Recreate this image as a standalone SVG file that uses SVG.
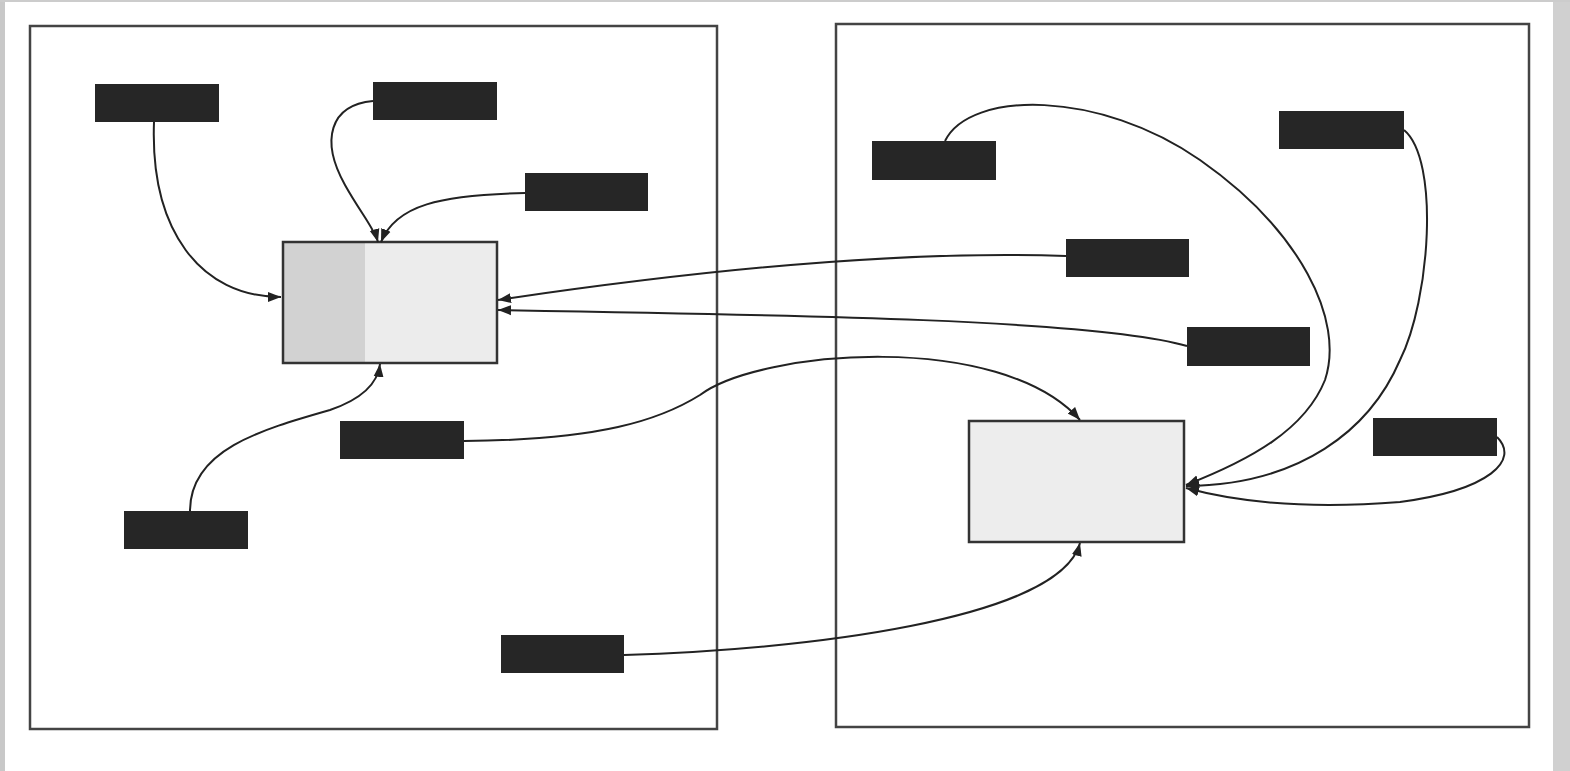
<svg xmlns="http://www.w3.org/2000/svg" width="1570" height="771" viewBox="0 0 1570 771">
<style>
.panel{fill:none;stroke:#444;stroke-width:2.5}
.lbl{fill:#262626}
.edge{fill:none;stroke:#222;stroke-width:2;marker-end:url(#ah)}
.gbox{stroke:#333;stroke-width:2.5}
</style>
<defs>
<marker id="ah" markerWidth="14" markerHeight="12" refX="13" refY="6" orient="auto" markerUnits="userSpaceOnUse">
<path d="M0,1 L13,6 L0,11 Z" fill="#222"/>
</marker>
</defs>
<rect x="0" y="0" width="1570" height="771" fill="#fff"/>
<rect x="0" y="0" width="5" height="771" fill="#c8c8c8"/>
<rect x="1553" y="0" width="17" height="771" fill="#d0d0d0"/>
<rect x="0" y="0" width="1570" height="2" fill="#ccc"/>
<g id="panel-left"><rect class="panel" x="30" y="26" width="687" height="703"/></g>
<g id="panel-right"><rect class="panel" x="836" y="24" width="693" height="703"/></g>
<g id="node-L">
<rect x="283" y="242" width="214" height="121" fill="#ececec"/>
<rect x="283" y="242" width="82" height="121" fill="#d2d2d2"/>
<rect class="gbox" x="283" y="242" width="214" height="121" fill="none"/>
</g>
<g id="node-R"><rect class="gbox" x="969" y="421" width="215" height="121" fill="#ededed"/></g>
<g id="node-A"><rect class="lbl" x="95" y="84" width="124" height="38"/></g>
<g id="node-B"><rect class="lbl" x="373" y="82" width="124" height="38"/></g>
<g id="node-C"><rect class="lbl" x="525" y="173" width="123" height="38"/></g>
<g id="node-D"><rect class="lbl" x="340" y="421" width="124" height="38"/></g>
<g id="node-E"><rect class="lbl" x="124" y="511" width="124" height="38"/></g>
<g id="node-F"><rect class="lbl" x="501" y="635" width="123" height="38"/></g>
<g id="node-G"><rect class="lbl" x="872" y="141" width="124" height="39"/></g>
<g id="node-H"><rect class="lbl" x="1279" y="111" width="125" height="38"/></g>
<g id="node-I"><rect class="lbl" x="1066" y="239" width="123" height="38"/></g>
<g id="node-J"><rect class="lbl" x="1187" y="327" width="123" height="39"/></g>
<g id="node-K"><rect class="lbl" x="1373" y="418" width="124" height="38"/></g>
<g id="connectors">
<path class="edge" d="M154,122 C150,230 200,297 281,297"/>
<path class="edge" d="M373,101 C330,105 320,140 345,185 C360,212 374,228 378,242"/>
<path class="edge" d="M525,193 C440,195 396,205 381,242"/>
<path class="edge" d="M190,511 C190,450 260,430 330,410 C365,398 378,382 380,364"/>
<path class="edge" d="M464,441 C600,440 660,420 700,395 C760,350 1000,330 1080,420"/>
<path class="edge" d="M624,655 C800,650 1060,620 1080,543"/>
<path class="edge" d="M1066,256 C900,250 700,270 498,300"/>
<path class="edge" d="M1187,346 C1100,320 800,315 498,310"/>
<path class="edge" d="M945,141 C970,90 1100,90 1200,160 C1300,230 1345,320 1325,380 C1305,430 1250,460 1186,485"/>
<path class="edge" d="M1404,130 C1440,160 1430,300 1400,360 C1370,430 1300,485 1186,486"/>
<path class="edge" d="M1497,437 C1520,460 1490,490 1400,502 C1300,510 1230,500 1186,488"/>
</g>
</svg>
